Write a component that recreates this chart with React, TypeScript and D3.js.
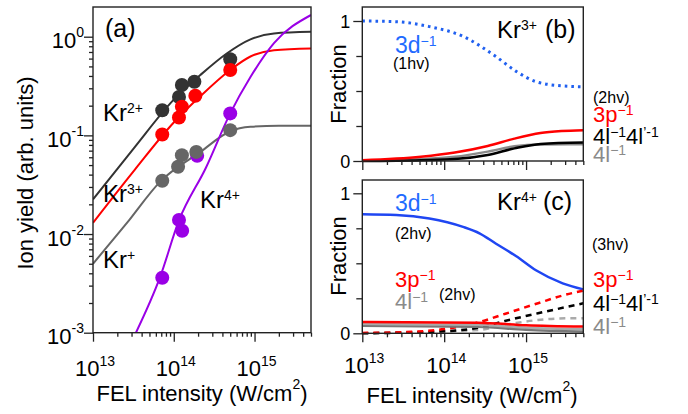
import React, { useEffect, useRef } from 'react';
import * as d3 from 'd3';

const FONT = '"Liberation Sans", Arial, Helvetica, sans-serif';

// panel (a): measured ion yields  [intensity (W/cm2), yield]
const blackPoints = [[7.2e13, 0.18], [1.16e14, 0.245], [1.26e14, 0.324], [1.8e14, 0.35], [5.0e14, 0.59]];
const redPoints = [[7.2e13, 0.102], [1.16e14, 0.152], [1.26e14, 0.195], [1.85e14, 0.252], [5.0e14, 0.46]];
const grayPoints = [[7.2e13, 0.0347], [1.13e14, 0.048], [1.26e14, 0.063], [1.9e14, 0.068], [5.0e14, 0.113]];
const purplePoints = [[7.2e13, 0.0036], [1.16e14, 0.0139], [1.27e14, 0.0108], [1.95e14, 0.062], [5.0e14, 0.167]];

// panel (a): model curves
const blackCurve = [[1e13, 0.0225], [3.16e13, 0.073], [1e14, 0.23], [2.14e14, 0.41], [4.57e14, 0.68], [8.9e14, 0.94], [1.74e15, 1.08], [5e15, 1.12]];
const redCurve = [[1e13, 0.013], [3.3e13, 0.045], [1e14, 0.135], [2.14e14, 0.25], [5e14, 0.46], [8.9e14, 0.63], [1.74e15, 0.73], [5e15, 0.76]];
const grayCurve = [[1e13, 0.005], [2.6e13, 0.0128], [6.8e13, 0.034], [2.14e14, 0.068], [5e14, 0.11], [8.9e14, 0.122], [2e15, 0.125], [5e15, 0.125]];
const purpleCurve = [[3.4e13, 0.001], [6.8e13, 0.0037], [1.15e14, 0.0135], [2.5e14, 0.047], [5e14, 0.167], [8.9e14, 0.39], [1.74e15, 0.86], [5e15, 1.66]];

// panel (b): Kr3+ fractions
const b3d = [[1e13, 1.0], [2.6e13, 0.995], [6.6e13, 0.96], [1.7e14, 0.89], [4.3e14, 0.745], [7.6e14, 0.64], [1.32e15, 0.567], [2.8e15, 0.536], [5e15, 0.53]];
const b3p = [[1e13, 0.005], [5.2e13, 0.03], [1.35e14, 0.06], [3.4e14, 0.107], [7.2e14, 0.16], [1.5e15, 0.2], [2.7e15, 0.214], [5e15, 0.22]];
const b4l = [[1e13, 0.002], [5.2e13, 0.014], [1.35e14, 0.03], [3.4e14, 0.067], [7.2e14, 0.105], [1.5e15, 0.118], [5e15, 0.12]];
const b4l4l = [[1e13, 0], [5.2e13, 0.006], [1.35e14, 0.014], [3.4e14, 0.043], [7.2e14, 0.09], [1.5e15, 0.122], [5e15, 0.132]];

// panel (c): Kr4+ fractions, solid = 2hv, dashed = 3hv
const c3d = [[1e13, 0.85], [2.6e13, 0.845], [6.6e13, 0.82], [1.7e14, 0.76], [2.7e14, 0.714], [4.3e14, 0.64], [7.6e14, 0.55], [1.32e15, 0.45], [2.8e15, 0.357], [5e15, 0.314]];
const c3p = [[1e13, 0.081], [2.6e14, 0.076], [1e15, 0.058], [5e15, 0.048]];
const c4l = [[1e13, 0.067], [2.6e14, 0.06], [1e15, 0.04], [5e15, 0.029]];
const c4l4l = [[1e13, 0.052], [2.6e14, 0.045], [1e15, 0.025], [5e15, 0.012]];
const c3pDash = [[1e13, 0.003], [3.16e13, 0.008], [1e14, 0.03], [2.5e14, 0.075], [5.6e14, 0.14], [1.4e15, 0.215], [2.8e15, 0.27], [5e15, 0.305]];
const c4l4lDash = [[1e13, 0], [1e14, 0.014], [2.6e14, 0.04], [5.5e14, 0.088], [1.4e15, 0.143], [5e15, 0.214]];
const c4lDash = [[1e13, 0], [2.6e14, 0.024], [5.5e14, 0.06], [1.4e15, 0.095], [3e15, 0.107], [5e15, 0.108]];

const fracTicks = [0, 0.25, 0.5, 0.75, 1];

const isMajor = v => Math.abs(Math.log10(v) - Math.round(Math.log10(v))) < 1e-6;

// text with superscript parts: [string, isSup]
function supText(g, x, y, parts, o) {
  const t = g.append('text')
    .attr('x', x).attr('y', y)
    .attr('font-family', FONT)
    .attr('font-size', o.size)
    .attr('fill', o.color || '#000')
    .attr('text-anchor', o.anchor || 'start');
  let up = false;
  parts.forEach(([s, sup]) => {
    const sp = t.append('tspan').text(s);
    if (sup) {
      sp.attr('font-size', o.supSize);
      if (!up) { sp.attr('dy', -o.rise); up = true; }
    } else if (up) {
      sp.attr('dy', o.rise); up = false;
    }
  });
  return t;
}

function logXAxis(g, x, y0, labelY) {
  const all = x.ticks();
  const major = all.filter(isMajor);
  const minor = all.filter(v => !isMajor(v));
  [[major, 9], [minor, 4]].forEach(([vals, size]) => {
    g.append('g')
      .attr('transform', `translate(0,${y0})`)
      .call(d3.axisBottom(x).tickValues(vals).tickSize(size).tickFormat(() => ''))
      .call(s => s.select('.domain').remove())
      .call(s => s.selectAll('line').attr('stroke', '#222').attr('stroke-width', 1.3));
  });
  if (labelY == null) return;
  major.forEach(v => {
    supText(g, x(v) + 2, labelY, [['10', false], [String(Math.round(Math.log10(v))), true]],
      { size: 22, supSize: 14, rise: 10, anchor: 'middle' });
  });
}

function fracYAxis(g, y, x0) {
  [[[0, 1], 9], [fracTicks.filter(v => v !== 0 && v !== 1), 6]].forEach(([vals, size]) => {
    g.append('g')
      .attr('transform', `translate(${x0},0)`)
      .call(d3.axisLeft(y).tickValues(vals).tickSize(size).tickFormat(() => ''))
      .call(s => s.select('.domain').remove())
      .call(s => s.selectAll('line').attr('stroke', '#222').attr('stroke-width', 1.3));
  });
  [0, 1].forEach(v => {
    g.append('text').attr('x', x0 - 12).attr('y', y(v) + 6.5)
      .attr('text-anchor', 'end').attr('font-family', FONT).attr('font-size', 18)
      .text(String(v));
  });
}

function frame(g, x0, y0, x1, y1) {
  g.append('rect').attr('x', x0).attr('y', y0).attr('width', x1 - x0).attr('height', y1 - y0)
    .attr('fill', 'none').attr('stroke', '#222').attr('stroke-width', 1.4);
}

function curve(g, x, y, data, color, width, dash) {
  const line = d3.line().x(d => x(d[0])).y(d => y(d[1])).curve(d3.curveMonotoneX);
  const p = g.append('path').datum(data).attr('d', line)
    .attr('fill', 'none').attr('stroke', color).attr('stroke-width', width);
  if (dash) p.attr('stroke-dasharray', dash);
  return p;
}

const BLUE_TXT = '#1f6bff';
const RED = '#ff0000';
const PURPLE = '#9a00e6';
const GRAY_TXT = '#8a8a8a';

export default function App() {
  const ref = useRef(null);

  useEffect(() => {
    const svg = d3.select(ref.current);
    svg.selectAll('*').remove();

    // ---------------- panel (a)
    const a = svg.append('g');
    const xA = d3.scaleLog().domain([1e13, 5e15]).range([93, 311]);
    const yA = d3.scaleLog().domain([1e-3, 2]).range([332.7, 7]);

    const clipA = svg.append('clipPath').attr('id', 'clipA');
    clipA.append('rect').attr('x', 93).attr('y', 7).attr('width', 218).attr('height', 325.7);
    const la = a.append('g').attr('clip-path', 'url(#clipA)');

    curve(la, xA, yA, blackCurve, '#333', 2);
    curve(la, xA, yA, redCurve, RED, 2);
    curve(la, xA, yA, grayCurve, '#666', 2);
    curve(la, xA, yA, purpleCurve, PURPLE, 2);

    [[blackPoints, '#333'], [redPoints, RED], [purplePoints, PURPLE], [grayPoints, '#666']].forEach(([pts, c]) => {
      la.selectAll(null).data(pts).enter().append('circle')
        .attr('cx', d => xA(d[0])).attr('cy', d => yA(d[1])).attr('r', 7).attr('fill', c);
    });

    frame(a, 93, 7, 311, 332.7);
    logXAxis(a, xA, 332.7, 376);

    const yAll = yA.ticks().filter(v => v <= 1);
    [[yAll.filter(isMajor), 9], [yAll.filter(v => !isMajor(v)), 4]].forEach(([vals, size]) => {
      a.append('g').attr('transform', 'translate(93,0)')
        .call(d3.axisLeft(yA).tickValues(vals).tickSize(size).tickFormat(() => ''))
        .call(s => s.select('.domain').remove())
        .call(s => s.selectAll('line').attr('stroke', '#222').attr('stroke-width', 1.3));
    });
    yAll.filter(isMajor).forEach(v => {
      const e = Math.round(Math.log10(v));
      supText(a, 84, yA(v) + 11.5, [['10', false], [String(e), true]],
        { size: 22, supSize: 14, rise: 11, anchor: 'end' });
    });

    a.append('text').attr('transform', 'translate(33,173) rotate(-90)')
      .attr('text-anchor', 'middle').attr('font-family', FONT).attr('font-size', 22)
      .text('Ion yield (arb. units)');
    supText(a, 202, 401, [['FEL intensity (W/cm', false], ['2', true], [')', false]],
      { size: 22, supSize: 14, rise: 12, anchor: 'middle' });

    a.append('text').attr('x', 105).attr('y', 37).attr('font-family', FONT).attr('font-size', 25).text('(a)');
    const krOpt = { size: 24, supSize: 14, rise: 8 };
    supText(a, 103, 121, [['Kr', false], ['2+', true]], krOpt);
    supText(a, 103, 202, [['Kr', false], ['3+', true]], krOpt);
    supText(a, 103, 268, [['Kr', false], ['+', true]], krOpt);
    supText(a, 200, 208, [['Kr', false], ['4+', true]], krOpt);

    // ---------------- panels (b) and (c)
    const xB = d3.scaleLog().domain([1e13, 5e15]).range([362.3, 583.3]);
    const yB = d3.scaleLinear().domain([0, 1]).range([161, 21]);
    const yC = d3.scaleLinear().domain([0, 1]).range([333.3, 193.3]);

    const b = svg.append('g');
    curve(b, xB, yB, b3d, '#2060f0', 3, '2.6,4');
    curve(b, xB, yB, b4l, '#8a8a8a', 2.5);
    curve(b, xB, yB, b4l4l, '#000', 2.5);
    curve(b, xB, yB, b3p, RED, 2.5);
    frame(b, 362.3, 7, 583.3, 161);
    fracYAxis(b, yB, 362.3);
    logXAxis(b, xB, 161, null);

    const c = svg.append('g');
    curve(c, xB, yC, c3d, '#1f46f2', 2.5);
    curve(c, xB, yC, c4lDash, '#aaa', 2.5, '6,5');
    curve(c, xB, yC, c4l4lDash, '#000', 2.5, '6,5');
    curve(c, xB, yC, c3pDash, RED, 2.5, '6,5');
    curve(c, xB, yC, c4l, '#aaa', 2.5);
    curve(c, xB, yC, c4l4l, '#777', 2.2);
    curve(c, xB, yC, c3p, RED, 2.5);
    frame(c, 362.3, 180, 583.3, 333.3);
    fracYAxis(c, yC, 362.3);
    logXAxis(c, xB, 333.3, 373);

    [84, 256].forEach(cy => {
      svg.append('text').attr('transform', `translate(346,${cy}) rotate(-90)`)
        .attr('text-anchor', 'middle').attr('font-family', FONT).attr('font-size', 22)
        .text('Fraction');
    });
    supText(svg, 472, 403, [['FEL intensity (W/cm', false], ['2', true], [')', false]],
      { size: 22, supSize: 14, rise: 12, anchor: 'middle' });

    const big = { size: 22, supSize: 14, rise: 7 };
    const small = { size: 16 };
    // (b) labels
    supText(b, 497, 38, [['Kr', false], ['3+', true]], { size: 24, supSize: 14, rise: 8 });
    b.append('text').attr('x', 545).attr('y', 38).attr('font-family', FONT).attr('font-size', 25).text('(b)');
    supText(b, 395, 53, [['3d', false], ['\u22121', true]], { ...big, size: 23, color: BLUE_TXT });
    supText(b, 393, 69, [['(1hv)', false]], small);
    supText(b, 593, 103, [['(2hv)', false]], small);
    supText(b, 593, 122, [['3p', false], ['\u22121', true]], { ...big, color: RED });
    supText(b, 593, 144, [['4l', false], ['\u22121', true], ['4l', false], ['\u2019-1', true]], big);
    supText(b, 593, 162, [['4l', false], ['\u22121', true]], { ...big, color: GRAY_TXT });

    // (c) labels
    supText(c, 497, 210, [['Kr', false], ['4+', true]], { size: 24, supSize: 14, rise: 8 });
    c.append('text').attr('x', 543).attr('y', 210).attr('font-family', FONT).attr('font-size', 25).text('(c)');
    supText(c, 395, 211, [['3d', false], ['\u22121', true]], { ...big, size: 23, color: BLUE_TXT });
    supText(c, 395, 239, [['(2hv)', false]], small);
    supText(c, 592, 250, [['(3hv)', false]], small);
    supText(c, 395, 287, [['3p', false], ['\u22121', true]], { ...big, color: RED });
    supText(c, 439, 300, [['(2hv)', false]], small);
    supText(c, 395, 309, [['4l', false], ['\u22121', true]], { ...big, color: GRAY_TXT });
    supText(c, 593, 287, [['3p', false], ['\u22121', true]], { ...big, color: RED });
    supText(c, 593, 311, [['4l', false], ['\u22121', true], ['4l', false], ['\u2019-1', true]], big);
    supText(c, 593, 334, [['4l', false], ['\u22121', true]], { ...big, color: GRAY_TXT });
  }, []);

  return (
    <svg ref={ref} width={688} height={414}
      style={{ position: 'absolute', left: 0, top: 0, background: '#fff' }} />
  );
}
